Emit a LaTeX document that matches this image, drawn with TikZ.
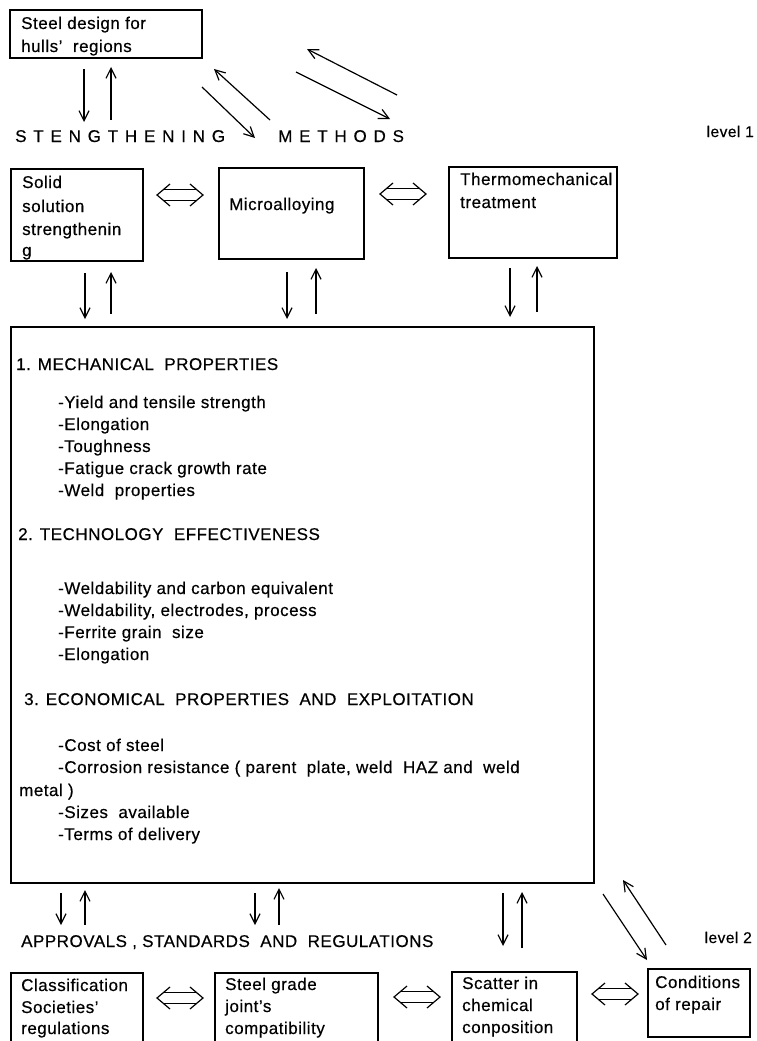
\documentclass[tikz,border=0pt]{standalone}
\usepackage{fontspec}
\setmainfont{Liberation Sans}[LetterSpace=3,FakeBold=0.4]
\usetikzlibrary{arrows.meta}
\tikzset{
  box/.style={draw, line width=1.2pt, anchor=north west, inner sep=0pt, outer sep=0pt},
  txt/.style={anchor=base west, inner sep=0pt, font=\fontsize{17}{20}\selectfont},
  lvl/.style={anchor=base east, inner sep=0pt, font=\fontsize{15.5}{18}\selectfont},
  spaced/.style={anchor=base west, inner sep=0pt, font=\fontsize{17}{20}\selectfont\addfontfeature{LetterSpace=40}},
  arr/.style={line width=1.2pt, -{Straight Barb[length=10pt,width=10pt]}},
  dblarrow/.pic={
    \draw[line width=1.2pt] (13,-11) -- (0,0) -- (13,11);
    \draw[line width=1.2pt] (33,-11) -- (46,0) -- (33,11);
    \draw[line width=1.2pt] (7,-5.5) -- (39,-5.5);
    \draw[line width=1.2pt] (7,5.5) -- (39,5.5);
  }
}
\begin{document}
\begin{tikzpicture}[x=1pt,y=-1pt]
\useasboundingbox (0,0) rectangle (757,1041);
\fill[white] (0,0) rectangle (757,1041);
\clip (0,0) rectangle (757,1041);

% ---- top box
\node[box, minimum width=192pt, minimum height=48pt] (sdh) at (10,10) {};
\node[txt] (sdh1) at (21,29) {Steel design for};
\node[txt] (sdh2) at (21,52) {hulls'\ \ regions};

\coordinate (a1s) at (84,69);  \coordinate (a1e) at (84,122);
\coordinate (a2s) at (111,120); \coordinate (a2e) at (111,67);
\draw[arr] (a1s) -- (a1e);
\draw[arr] (a2s) -- (a2e);

\node[spaced] (sm1) at (15,142) {STENGTHENING};
\node[spaced] (sm2) at (278,142) {METHODS};

\coordinate (d1s) at (202,87);  \coordinate (d1e) at (255,138);
\coordinate (d2s) at (270,120); \coordinate (d2e) at (214,69);
\coordinate (d3s) at (296,72);  \coordinate (d3e) at (390,119);
\coordinate (d4s) at (397,95);  \coordinate (d4e) at (307,49);
\draw[arr] (d1s) -- (d1e);
\draw[arr] (d2s) -- (d2e);
\draw[arr] (d3s) -- (d3e);
\draw[arr] (d4s) -- (d4e);

\node[lvl] (lv1) at (754,137) {level 1};

% ---- level 1 boxes
\node[box, minimum width=132pt, minimum height=92pt] (ss) at (11,169) {};
\node[txt] (ss1) at (22,188) {Solid};
\node[txt] (ss2) at (22,212) {solution};
\node[txt] (ss3) at (22,235) {strengthenin};
\node[txt] (ss4) at (22,256) {g};

\pic (e1) at (157,195) {dblarrow};

\node[box, minimum width=145pt, minimum height=91pt] (mi) at (219,168) {};
\node[txt] (mi1) at (229,210) {Microalloying};

\pic (e2) at (380,194) {dblarrow};

\node[box, minimum width=168pt, minimum height=91pt] (th) at (449,167) {};
\node[txt] (th1) at (460,185) {Thermomechanical};
\node[txt] (th2) at (460,208) {treatment};

\coordinate (b1s) at (85,273);  \coordinate (b1e) at (85,319);
\coordinate (b2s) at (111,314); \coordinate (b2e) at (111,272);
\coordinate (b3s) at (287,272); \coordinate (b3e) at (287,319);
\coordinate (b4s) at (316,314); \coordinate (b4e) at (316,268);
\coordinate (b5s) at (510,268); \coordinate (b5e) at (510,317);
\coordinate (b6s) at (537,312); \coordinate (b6e) at (537,266);
\draw[arr] (b1s) -- (b1e);
\draw[arr] (b2s) -- (b2e);
\draw[arr] (b3s) -- (b3e);
\draw[arr] (b4s) -- (b4e);
\draw[arr] (b5s) -- (b5e);
\draw[arr] (b6s) -- (b6e);

% ---- big box
\node[box, minimum width=583pt, minimum height=556pt] (big) at (11,327) {};
\node[txt] (p1) at (16,370) {1. MECHANICAL\ \ PROPERTIES};
\node[txt] (p2) at (58,408) {-Yield and tensile strength};
\node[txt] (p3) at (58,430) {-Elongation};
\node[txt] (p4) at (58,452) {-Toughness};
\node[txt] (p5) at (58,474) {-Fatigue crack growth rate};
\node[txt] (p6) at (58,496) {-Weld\ \ properties};
\node[txt] (p7) at (18,540) {2. TECHNOLOGY\ \ EFFECTIVENESS};
\node[txt] (p8) at (58,594) {-Weldability and carbon equivalent};
\node[txt] (p9) at (58,616) {-Weldability, electrodes, process};
\node[txt] (p10) at (58,638) {-Ferrite grain\ \ size};
\node[txt] (p11) at (58,660) {-Elongation};
\node[txt] (p12) at (24,705) {3. ECONOMICAL\ \ PROPERTIES\ \ AND\ \ EXPLOITATION};
\node[txt] (p13) at (58,751) {-Cost of steel};
\node[txt] (p14) at (58,773) {-Corrosion resistance ( parent\ \ plate, weld\ \ HAZ and\ \ weld};
\node[txt] (p15) at (19,796) {metal )};
\node[txt] (p16) at (58,818) {-Sizes\ \ available};
\node[txt] (p17) at (58,840) {-Terms of delivery};

% ---- arrows below big box
\coordinate (c1s) at (61,893);  \coordinate (c1e) at (61,925);
\coordinate (c2s) at (85,925);  \coordinate (c2e) at (85,890);
\coordinate (c3s) at (255,893); \coordinate (c3e) at (255,925);
\coordinate (c4s) at (279,925); \coordinate (c4e) at (279,888);
\coordinate (c5s) at (503,893); \coordinate (c5e) at (503,946);
\coordinate (c6s) at (522,948); \coordinate (c6e) at (522,892);
\coordinate (c7s) at (603,894); \coordinate (c7e) at (647,960);
\coordinate (c8s) at (666,945); \coordinate (c8e) at (623,880);
\draw[arr] (c1s) -- (c1e);
\draw[arr] (c2s) -- (c2e);
\draw[arr] (c3s) -- (c3e);
\draw[arr] (c4s) -- (c4e);
\draw[arr] (c5s) -- (c5e);
\draw[arr] (c6s) -- (c6e);
\draw[arr] (c7s) -- (c7e);
\draw[arr] (c8s) -- (c8e);

\node[txt] (asr) at (21,947) {APPROVALS , STANDARDS\ \ AND\ \ REGULATIONS};
\node[lvl] (lv2) at (752,943) {level 2};

% ---- level 2 boxes
\node[box, minimum width=132pt, minimum height=90pt] (cls) at (11,973) {};
\node[txt] (cls1) at (21,991) {Classification};
\node[txt] (cls2) at (21,1013) {Societies'};
\node[txt] (cls3) at (21,1034) {regulations};

\pic (e3) at (157,998) {dblarrow};

\node[box, minimum width=163pt, minimum height=90pt] (sg) at (215,973) {};
\node[txt] (sg1) at (225,990) {Steel grade};
\node[txt] (sg2) at (225,1012) {joint's};
\node[txt] (sg3) at (225,1034) {compatibility};

\pic (e4) at (394,997) {dblarrow};

\node[box, minimum width=125pt, minimum height=90pt] (sc) at (452,972) {};
\node[txt] (sc1) at (462,989) {Scatter in};
\node[txt] (sc2) at (462,1011) {chemical};
\node[txt] (sc3) at (462,1033) {conposition};

\pic (e5) at (592,994) {dblarrow};

\node[box, minimum width=102pt, minimum height=68pt] (cr) at (648,969) {};
\node[txt] (cr1) at (655,988) {Conditions};
\node[txt] (cr2) at (655,1010) {of repair};
\end{tikzpicture}
\end{document}
